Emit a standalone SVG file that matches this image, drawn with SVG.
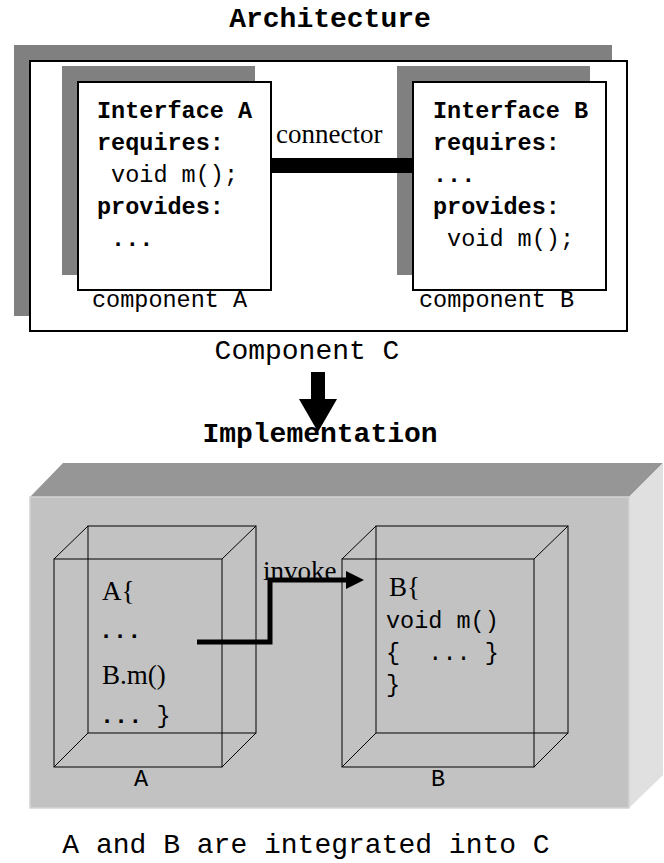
<svg xmlns="http://www.w3.org/2000/svg" width="664" height="863" viewBox="0 0 664 863">
<style>
.mono{font-family:"Liberation Mono","Courier New",monospace;fill:#000}
.b{font-weight:bold}
.title{font-size:28px}
.sm{font-size:23.5px}
.serif{font-family:"Liberation Serif","Times New Roman",serif;font-size:27px;fill:#000}
.shadow{fill:#808080}
.card{fill:#fff;stroke:#000;stroke-width:2}
.wire{fill:none;stroke:#000;stroke-width:1}
</style>
<rect width="664" height="863" fill="#fff"/>
<text class="mono b title" x="330" y="27" text-anchor="middle">Architecture</text>
<g id="componentC">
  <rect class="shadow" x="14" y="45" width="598" height="271"/>
  <rect class="card" x="30" y="61" width="597" height="270"/>
  <text class="mono title" x="307" y="359" text-anchor="middle">Component C</text>
</g>
<g id="componentA">
  <rect class="shadow" x="62" y="66" width="193" height="209"/>
  <rect class="card" x="78" y="82" width="193" height="208"/>
  <text class="mono b sm" x="97" y="118">Interface A</text>
  <text class="mono b sm" x="97" y="150">requires:</text>
  <text class="mono sm" x="97" y="182" xml:space="preserve"> void m();</text>
  <text class="mono b sm" x="97" y="214">provides:</text>
  <text class="mono b sm" x="97" y="246" xml:space="preserve"> ...</text>
  <text class="mono sm" x="92" y="307">component A</text>
</g>
<g id="componentB">
  <rect class="shadow" x="397" y="66" width="193" height="209"/>
  <rect class="card" x="413" y="82" width="193" height="208"/>
  <text class="mono b sm" x="433" y="118">Interface B</text>
  <text class="mono b sm" x="433" y="150">requires:</text>
  <text class="mono b sm" x="433" y="182">...</text>
  <text class="mono b sm" x="433" y="214">provides:</text>
  <text class="mono sm" x="433" y="246" xml:space="preserve"> void m();</text>
  <text class="mono sm" x="419" y="307">component B</text>
</g>
<g id="connectors">
  <rect x="271" y="158" width="142" height="15" fill="#000"/>
  <text class="serif" x="276" y="143">connector</text>
  <rect x="311" y="372" width="14" height="28" fill="#000"/>
  <polygon points="299,399 337,399 318,432" fill="#000"/>
</g>
<text class="mono b title" x="320" y="442" text-anchor="middle">Implementation</text>
<g id="implementationC">
  <polygon points="30,497 63,463 663,463 629,497" fill="#969696"/>
  <polygon points="629,497 663,463 663,775 629,808" fill="#e0e0e0"/>
  <rect x="30" y="497" width="599" height="311" fill="#c2c2c2" stroke="#d4d4d4" stroke-width="1.5"/>
</g>
<g id="boxA">
  <rect class="wire" x="88" y="526" width="168" height="207"/>
  <rect class="wire" x="54" y="559" width="168" height="208"/>
  <path class="wire" d="M54,559 L88,526 M222,559 L256,526 M54,767 L88,733 M222,767 L256,733"/>
  <text class="serif" x="102" y="600">A{</text>
  <text class="mono b sm" x="99" y="638">...</text>
  <text class="serif" x="102" y="684">B.m()</text>
  <text class="mono sm" x="100" y="723" xml:space="preserve"><tspan class="b">...</tspan> }</text>
  <text class="mono sm" x="134" y="786">A</text>
</g>
<g id="boxB">
  <rect class="wire" x="376" y="526" width="192" height="207"/>
  <rect class="wire" x="342" y="559" width="192" height="208"/>
  <path class="wire" d="M342,559 L376,526 M534,559 L568,526 M342,767 L376,733 M534,767 L568,733"/>
  <text class="serif" x="389" y="596">B{</text>
  <text class="mono sm" x="386" y="628">void m()</text>
  <text class="mono sm" x="386" y="660" xml:space="preserve">{  ... }</text>
  <text class="mono sm" x="386" y="692">}</text>
  <text class="mono sm" x="431" y="786">B</text>
</g>
<g id="invoke">
  <text class="serif" x="263" y="580">invoke</text>
  <path d="M197,642 H270 V580 H347" fill="none" stroke="#000" stroke-width="5"/>
  <polygon points="346,571 364,580 346,589" fill="#000"/>
</g>
<text class="mono title" x="306" y="853" text-anchor="middle">A and B are integrated into C</text>
</svg>
